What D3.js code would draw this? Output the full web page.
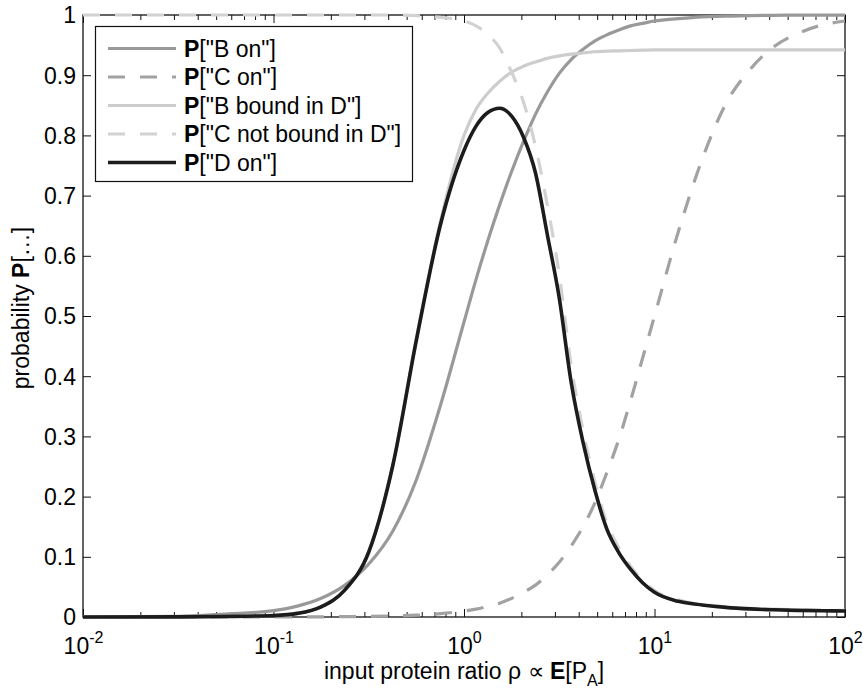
<!DOCTYPE html>
<html>
<head>
<meta charset="utf-8">
<script src="https://cdn.jsdelivr.net/npm/d3@7/dist/d3.min.js"></script>
<style>
  html, body { margin: 0; padding: 0; background: #fff; }
  svg { display: block; }
  text { font-family: "Liberation Sans", Arial, Helvetica, sans-serif; fill: #000; }
</style>
</head>
<body>
<svg id="chart" width="863" height="693"></svg>
<script>
// Sampling grid: log10 of the input protein ratio rho
const log10Rho = [-2, -1.5, -1.25, -1, -0.875, -0.75, -0.625, -0.5, -0.375, -0.25, -0.125,
  0, 0.0625, 0.125, 0.1875, 0.25, 0.3125, 0.375, 0.4375, 0.5, 0.5625, 0.625, 0.6875,
  0.75, 0.8125, 0.875, 0.9375, 1, 1.125, 1.25, 1.375, 1.5, 1.625, 1.75, 1.875, 2];

// Probabilities of each event at the grid points
const pBOn = [0.0001, 0.001, 0.005, 0.0105, 0.018, 0.031, 0.053, 0.088, 0.142, 0.228, 0.35,
  0.49, 0.56, 0.625, 0.685, 0.74, 0.79, 0.835, 0.872, 0.903, 0.926, 0.943, 0.957,
  0.967, 0.975, 0.982, 0.986, 0.99, 0.994, 0.997, 0.998, 0.999, 0.9995, 0.9997, 0.9998, 0.9999];

const pCOn = [0, 0.00001, 0.00003, 0.0001, 0.0002, 0.0003, 0.0006, 0.001, 0.0018, 0.003, 0.0056,
  0.0099, 0.013, 0.0175, 0.023, 0.031, 0.041, 0.053, 0.07, 0.091, 0.118, 0.15, 0.19,
  0.24, 0.295, 0.36, 0.43, 0.50, 0.64, 0.76, 0.853, 0.909, 0.947, 0.969, 0.983, 0.99];

const pBBoundInD = [0, 0.0002, 0.0008, 0.0025, 0.006, 0.017, 0.045, 0.108, 0.25, 0.462, 0.655,
  0.80, 0.843, 0.87, 0.89, 0.905, 0.915, 0.922, 0.928, 0.932, 0.935, 0.937, 0.939,
  0.94, 0.9405, 0.941, 0.9415, 0.942, 0.942, 0.942, 0.942, 0.942, 0.942, 0.942, 0.942, 0.942];

const pCNotBoundInD = [1, 1, 1, 1, 1, 1, 1, 1, 1, 0.999, 0.996,
  0.99, 0.982, 0.968, 0.945, 0.905, 0.855, 0.782, 0.684, 0.569, 0.418, 0.31, 0.224,
  0.156, 0.115, 0.084, 0.061, 0.044, 0.028, 0.021, 0.017, 0.0145, 0.013, 0.012, 0.0115, 0.011];

const pDOn = [0, 0.0002, 0.0008, 0.0025, 0.006, 0.017, 0.045, 0.108, 0.25, 0.46, 0.65,
  0.775, 0.815, 0.838, 0.845, 0.832, 0.797, 0.738, 0.635, 0.53, 0.39, 0.29, 0.21,
  0.146, 0.107, 0.079, 0.057, 0.041, 0.026, 0.02, 0.016, 0.0135, 0.012, 0.011, 0.0105, 0.01];

const legendLabels = ['"B on"', '"C on"', '"B bound in D"', '"C not bound in D"', '"D on"'];
const xTickExponents = [-2, -1, 0, 1, 2];
const yTickValues = [0, 0.1, 0.2, 0.3, 0.4, 0.5, 0.6, 0.7, 0.8, 0.9, 1];

const series = [
  { values: pBOn,          label: legendLabels[0], color: "#999999", width: 3.2, dash: null },
  { values: pCOn,          label: legendLabels[1], color: "#a2a2a2", width: 3.2, dash: "17,15" },
  { values: pBBoundInD,    label: legendLabels[2], color: "#cdcdcd", width: 3.2, dash: null },
  { values: pCNotBoundInD, label: legendLabels[3], color: "#d2d2d2", width: 3.2, dash: "17,15" },
  { values: pDOn,          label: legendLabels[4], color: "#1c1c1c", width: 3.6, dash: null }
];

const svg = d3.select("#chart");
const plotLeft = 83, plotRight = 845, plotTop = 15, plotBottom = 617;
const FONT = 23;

const x = d3.scaleLog().domain([0.01, 100]).range([plotLeft, plotRight]);
const y = d3.scaleLinear().domain([0, 1]).range([plotBottom, plotTop]);

const rho = log10Rho.map(e => Math.pow(10, e));

// Minor log ticks (2..9 in every decade)
const minorTicks = [];
for (let e = -2; e < 2; e++) for (let k = 2; k <= 9; k++) minorTicks.push(k * Math.pow(10, e));
const majorTicks = xTickExponents.map(e => Math.pow(10, e));

function styleAxis(g) {
  g.select(".domain").remove();
  g.selectAll(".tick line").attr("stroke", "#111").attr("stroke-width", 1);
}

// Bottom axis: inward ticks, labels added separately
const gBottom = svg.append("g").attr("transform", `translate(0,${plotBottom})`)
  .call(d3.axisBottom(x).tickValues(majorTicks).tickSize(-8).tickFormat(""));
styleAxis(gBottom);
svg.append("g").attr("transform", `translate(0,${plotBottom})`)
  .call(d3.axisBottom(x).tickValues(minorTicks).tickSize(-5).tickFormat("")).call(styleAxis);

// Top axis
svg.append("g").attr("transform", `translate(0,${plotTop})`)
  .call(d3.axisTop(x).tickValues(majorTicks).tickSize(-8).tickFormat("")).call(styleAxis);
svg.append("g").attr("transform", `translate(0,${plotTop})`)
  .call(d3.axisTop(x).tickValues(minorTicks).tickSize(-5).tickFormat("")).call(styleAxis);

// Left axis with labels
const gLeft = svg.append("g").attr("transform", `translate(${plotLeft},0)`)
  .call(d3.axisLeft(y).tickValues(yTickValues).tickSize(-8).tickPadding(7)
    .tickFormat(d => d3.format("~g")(d)));
styleAxis(gLeft);
gLeft.selectAll(".tick text")
  .attr("x", -7).attr("dy", "0.34em")
  .style("font-size", FONT + "px").style("font-family", "'Liberation Sans', Arial, sans-serif")
  .attr("fill", "#000");

// Right axis
svg.append("g").attr("transform", `translate(${plotRight},0)`)
  .call(d3.axisRight(y).tickValues(yTickValues).tickSize(-8).tickFormat("")).call(styleAxis);

// Box
svg.append("rect")
  .attr("x", plotLeft).attr("y", plotTop)
  .attr("width", plotRight - plotLeft).attr("height", plotBottom - plotTop)
  .attr("fill", "none").attr("stroke", "#111").attr("stroke-width", 1.3);

// Power-of-ten tick labels under the bottom axis
gBottom.selectAll(".tick").each(function (d, i) {
  const t = d3.select(this).append("text")
    .attr("y", 37).attr("text-anchor", "middle")
    .style("font-size", FONT + "px").attr("fill", "#000");
  t.append("tspan").text("10");
  t.append("tspan").attr("dy", -11).style("font-size", "16px").text(String(xTickExponents[i]));
});

// Curves
const line = d3.line()
  .x((d, i) => x(rho[i]))
  .y(d => y(d))
  .curve(d3.curveMonotoneX);

series.forEach(s => {
  svg.append("path")
    .datum(s.values)
    .attr("d", line)
    .attr("fill", "none")
    .attr("stroke", s.color)
    .attr("stroke-width", s.width)
    .attr("stroke-dasharray", s.dash)
    .attr("stroke-linejoin", "round");
});

// Legend
const legend = svg.append("g");
legend.append("rect")
  .attr("x", 95.5).attr("y", 26.5).attr("width", 317).attr("height", 155)
  .attr("fill", "#fff").attr("stroke", "#111").attr("stroke-width", 1.2);
series.forEach((s, i) => {
  const base = 56.5 + 28.5 * i;
  legend.append("line")
    .attr("x1", 108).attr("x2", 176)
    .attr("y1", base - 8).attr("y2", base - 8)
    .attr("stroke", s.color).attr("stroke-width", s.width)
    .attr("stroke-dasharray", s.dash);
  const t = legend.append("text").attr("x", 184).attr("y", base).style("font-size", FONT + "px");
  t.append("tspan").style("font-weight", "bold").text("P");
  t.append("tspan").text("[" + s.label + "]");
});

// Axis titles
const xt = svg.append("text")
  .attr("x", (plotLeft + plotRight) / 2).attr("y", 679)
  .attr("text-anchor", "middle").style("font-size", FONT + "px");
xt.append("tspan").text("input protein ratio \u03C1 \u221D ");
xt.append("tspan").style("font-weight", "bold").text("E");
xt.append("tspan").text("[P");
xt.append("tspan").attr("dy", 7).style("font-size", "16px").text("A");
xt.append("tspan").attr("dy", -7).text("]");

const yt = svg.append("text")
  .attr("transform", `translate(29,308) rotate(-90)`)
  .attr("text-anchor", "middle").style("font-size", FONT + "px");
yt.append("tspan").text("probability ");
yt.append("tspan").style("font-weight", "bold").text("P");
yt.append("tspan").text("[\u2026]");
</script>
</body>
</html>
